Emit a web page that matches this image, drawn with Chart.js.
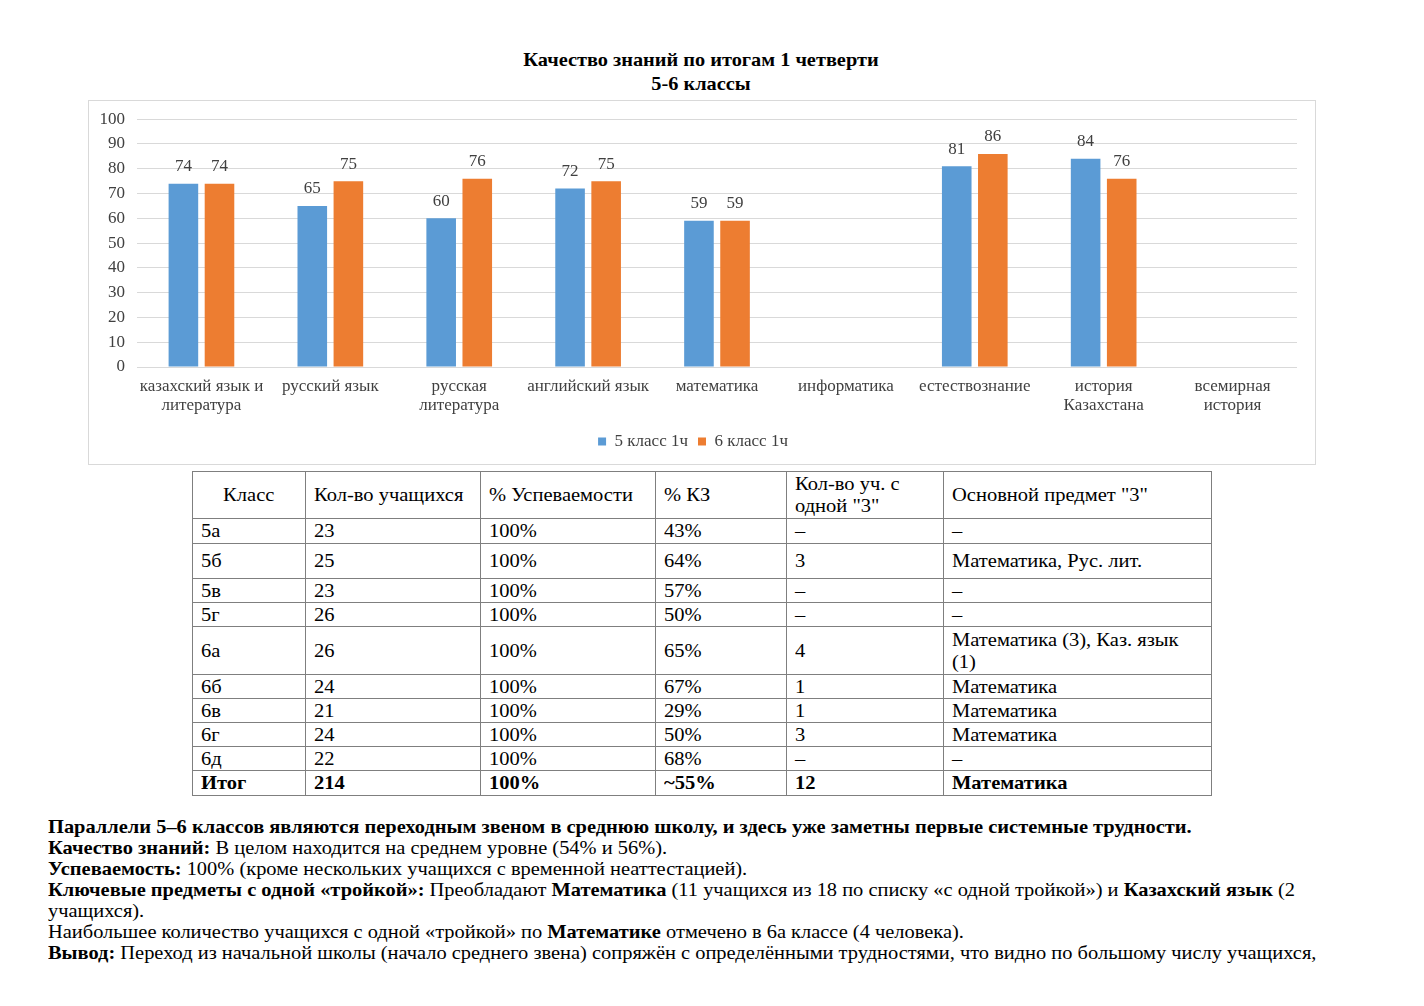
<!DOCTYPE html>
<html>
<head>
<meta charset="utf-8">
<script src="https://cdn.jsdelivr.net/npm/chart.js@4.4.1/dist/chart.umd.min.js"></script>
<style>
  html, body { margin: 0; padding: 0; background: #fff; }
  body { width: 1424px; height: 1006px; position: relative; overflow: hidden; font-family: "Liberation Serif", "Times New Roman", serif; color: #000; }
  #title { position: absolute; left: 0; width: 1402px; top: 48px; text-align: center; font-weight: bold; font-size: 19px; line-height: 24px; transform: scaleX(1.07); transform-origin: 701px 0; }
  #box { position: absolute; left: 88px; top: 100px; width: 1228px; height: 365px; box-sizing: border-box; border: 1px solid #d9d9d9; }
  #box canvas { position: absolute; left: 0; top: -4px; }
  table { position: absolute; left: 192px; top: 471px; border-collapse: collapse; font-size: 19px; table-layout: fixed; }
  td { border: 1.5px solid #7f7f7f; padding: 0 8px; vertical-align: middle; line-height: 22px; white-space: nowrap; overflow: visible; }
  td span { display: inline-block; transform: scaleX(1.08); transform-origin: 0 50%; }
  td.c { text-align: center; }
  td.c span { transform-origin: 50% 50%; }
  tr.b td { font-weight: bold; }
  #text { position: absolute; left: 48px; top: 816px; font-size: 19px; line-height: 21px; white-space: nowrap; transform: scaleX(1.075); transform-origin: 0 0; }
</style>
</head>
<body>
<div id="title">Качество знаний по итогам 1 четверти<br>5-6 классы</div>
<div id="box"><canvas id="c" width="1226" height="367"></canvas></div>
<table id="tbl"></table>
<div id="text">
<b>Параллели 5–6 классов являются переходным звеном в среднюю школу, и здесь уже заметны первые системные трудности.</b><br>
<b>Качество знаний:</b> В целом находится на среднем уровне (54% и 56%).<br>
<b>Успеваемость:</b> 100% (кроме нескольких учащихся с временной неаттестацией).<br>
<b>Ключевые предметы с одной «тройкой»:</b> Преобладают <b>Математика</b> (11 учащихся из 18 по списку «с одной тройкой») и <b>Казахский язык</b> (2<br>
учащихся).<br>
Наибольшее количество учащихся с одной «тройкой» по <b>Математике</b> отмечено в 6а классе (4 человека).<br>
<b>Вывод:</b> Переход из начальной школы (начало среднего звена) сопряжён с определёнными трудностями, что видно по большому числу учащихся,
</div>
<script>
// ---- chart data ----
const categories = [
  ['казахский язык и', 'литература'],
  ['русский язык'],
  ['русская', 'литература'],
  ['английский язык'],
  ['математика'],
  ['информатика'],
  ['естествознание'],
  ['история', 'Казахстана'],
  ['всемирная', 'история']
];
const seriesNames = ['5 класс 1ч', '6 класс 1ч'];
const grade5 = [74, 65, 60, 72, 59, null, 81, 84, null];
const grade6 = [74, 75, 76, 75, 59, null, 86, 76, null];
const yMin = 0, yMax = 100, yStep = 10;

// ---- table data ----
const tableHeader = ['Класс', 'Кол-во учащихся', '% Успеваемости', '% КЗ', ['Кол-во уч. с', 'одной "3"'], 'Основной предмет "3"'];
const classNames = ['5а', '5б', '5в', '5г', '6а', '6б', '6в', '6г', '6д', 'Итог'];
const studentCounts = ['23', '25', '23', '26', '26', '24', '21', '24', '22', '214'];
const successRates = ['100%', '100%', '100%', '100%', '100%', '100%', '100%', '100%', '100%', '100%'];
const qualityRates = ['43%', '64%', '57%', '50%', '65%', '67%', '29%', '50%', '68%', '~55%'];
const oneThreeCounts = ['–', '3', '–', '–', '4', '1', '1', '3', '–', '12'];
const mainSubjects = ['–', 'Математика, Рус. лит.', '–', '–', ['Математика (3), Каз. язык', '(1)'], 'Математика', 'Математика', 'Математика', '–', 'Математика'];

const colWidths = [113, 175, 175, 131, 157, 268];
const rowHeights = [25, 35, 24, 24, 48, 24, 24, 24, 24, 25];

function makeCell(v, cls) {
  const td = document.createElement('td');
  if (cls) td.className = cls;
  const span = document.createElement('span');
  const lines = Array.isArray(v) ? v : [v];
  lines.forEach((ln, k) => {
    if (k > 0) span.appendChild(document.createElement('br'));
    span.appendChild(document.createTextNode(ln));
  });
  td.appendChild(span);
  return td;
}

(function buildTable() {
  const t = document.getElementById('tbl');
  const cg = document.createElement('colgroup');
  colWidths.forEach(w => { const c = document.createElement('col'); c.style.width = w + 'px'; cg.appendChild(c); });
  t.appendChild(cg);
  const hr = document.createElement('tr');
  hr.style.height = '47px';
  tableHeader.forEach((h, i) => hr.appendChild(makeCell(h, i === 0 ? 'c' : '')));
  t.appendChild(hr);
  classNames.forEach((cn, r) => {
    const tr = document.createElement('tr');
    tr.style.height = rowHeights[r] + 'px';
    if (r === classNames.length - 1) tr.className = 'b';
    [cn, studentCounts[r], successRates[r], qualityRates[r], oneThreeCounts[r], mainSubjects[r]]
      .forEach(v => tr.appendChild(makeCell(v, '')));
    t.appendChild(tr);
  });
})();

const valueLabels = {
  id: 'valueLabels',
  afterDatasetsDraw(chart) {
    const ctx = chart.ctx;
    ctx.save();
    ctx.font = '17px "Liberation Serif"';
    ctx.fillStyle = '#404040';
    ctx.textAlign = 'center';
    ctx.textBaseline = 'middle';
    chart.data.datasets.forEach((ds, di) => {
      const meta = chart.getDatasetMeta(di);
      meta.data.forEach((el, i) => {
        const v = ds.data[i];
        if (v === null || v === undefined) return;
        ctx.fillText(String(v), el.x, el.y - 17);
      });
    });
    ctx.restore();
  }
};

new Chart(document.getElementById('c'), {
  type: 'bar',
  data: {
    labels: categories,
    datasets: [
      { label: seriesNames[0], data: grade5, backgroundColor: '#5B9BD5' },
      { label: seriesNames[1], data: grade6, backgroundColor: '#ED7D31' }
    ]
  },
  options: {
    responsive: false,
    animation: false,
    devicePixelRatio: 1,
    categoryPercentage: 0.56,
    barPercentage: 0.82,
    layout: { padding: { top: 11, right: 18, bottom: 4, left: 0 } },
    plugins: {
      legend: {
        position: 'bottom',
        labels: {
          font: { family: 'Liberation Serif', size: 17 },
          color: '#404040',
          boxWidth: 8,
          boxHeight: 8,
          padding: 10
        }
      },
      tooltip: { enabled: false }
    },
    scales: {
      x: {
        grid: { display: false, drawTicks: false },
        border: { display: false },
        ticks: {
          font: { family: 'Liberation Serif', size: 17, lineHeight: 1.12 },
          color: '#404040',
          padding: 10,
          maxRotation: 0,
          autoSkip: false
        },
        afterFit(s) { s.height = 56; }
      },
      y: {
        min: yMin, max: yMax,
        grid: { color: '#d9d9d9', drawTicks: false },
        border: { display: false },
        ticks: {
          stepSize: yStep,
          font: { family: 'Liberation Serif', size: 17 },
          color: '#404040',
          padding: 12
        },
        afterFit(s) { s.width = 48; }
      }
    }
  },
  plugins: [valueLabels]
});
</script>
</body>
</html>
